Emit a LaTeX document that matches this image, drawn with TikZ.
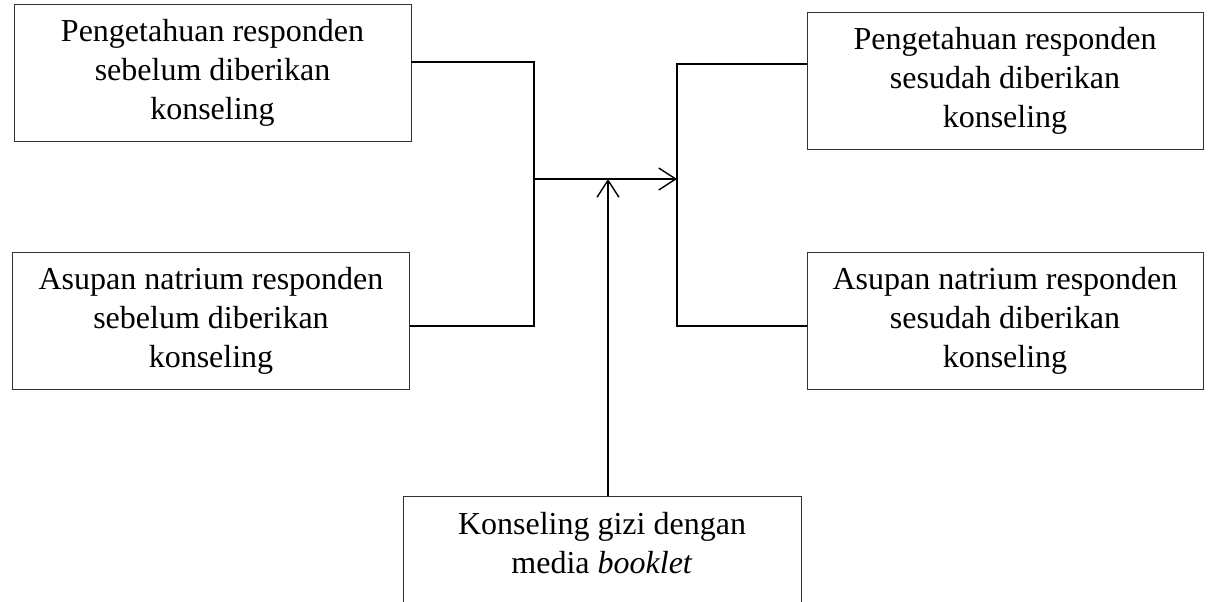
\documentclass[tikz,border=0pt]{standalone}
\usepackage{fontspec}
\setmainfont{Liberation Serif}
\usetikzlibrary{arrows.meta,positioning}

\tikzset{
  varbox/.style={draw=black!80,line width=0.9pt,minimum width=397pt,minimum height=137pt,
    align=center,inner sep=0pt,font=\fontsize{32}{39}\selectfont},
  link/.style={line width=1.4pt},
  linkarrow/.style={link,-{Straight Barb[length=17pt,width=22pt,line width=1.4pt]}}
}

\begin{document}
\begin{tikzpicture}[x=1pt,y=-1pt]
\useasboundingbox (0,0) rectangle (1208,602);
\clip (0,0) rectangle (1208,602);
% boxes
\node[varbox] (pretahu) at (212.5,73) {Pengetahuan responden\\ sebelum diberikan\\ konseling};
\node[varbox] (prenat) at (211,320.5) {Asupan natrium responden\\ sebelum diberikan\\ konseling};
\node[varbox,minimum width=396pt] (posttahu) at (1005,80.5) {Pengetahuan responden\\ sesudah diberikan\\ konseling};
\node[varbox,minimum width=396pt] (postnat) at (1005,320.5) {Asupan natrium responden\\ sesudah diberikan\\ konseling};
\node[varbox,minimum width=398pt,minimum height=160pt,anchor=north] (mediabox) at (602,496) {};
\node[align=center,inner sep=0pt,font=\fontsize{32}{39}\selectfont] (media) at (602,543) {Konseling gizi dengan\\ media \textit{booklet}};
% junctions
\coordinate (ltop) at (534,62);
\coordinate (lbot) at (534,326);
\coordinate (rtop) at (677,64);
\coordinate (rbot) at (677,326);
\coordinate (mid) at (534,179);
\coordinate (up) at (608,179);
% connectors
\draw[link] (pretahu.east |- ltop) -- (ltop) -- (lbot) -- (prenat.east |- lbot);
\draw[link] (posttahu.west |- rtop) -- (rtop) -- (rbot) -- (postnat.west |- rbot);
\draw[linkarrow] (mid) -- (rtop |- mid);
\draw[linkarrow] (up |- mediabox.north) -- (up);
\end{tikzpicture}
\end{document}
